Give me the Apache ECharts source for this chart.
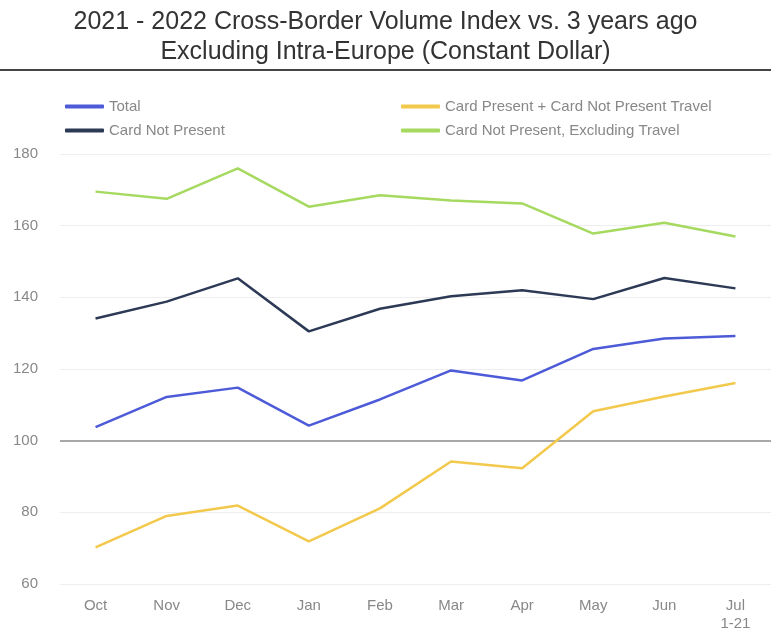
<!DOCTYPE html>
<html><head><meta charset="utf-8">
<script src="https://cdn.jsdelivr.net/npm/echarts@6/dist/echarts.min.js"></script>
<style>html,body{margin:0;padding:0;background:#fff}#c{width:771px;height:635px}</style>
</head><body><div id="c"></div>
<script>
const categories = ['Oct','Nov','Dec','Jan','Feb','Mar','Apr','May','Jun','Jul\n1-21'];
const total = [103.8,112.2,114.8,104.2,111.5,119.6,116.8,125.6,128.5,129.2];
const cardNotPresent = [134.1,138.8,145.3,130.5,136.8,140.3,142.0,139.5,145.4,142.5];
const cpTravel = [70.2,79.0,81.9,71.9,81.1,94.2,92.3,108.2,112.3,116.1];
const cnpExTravel = [169.5,167.5,176.0,165.3,168.5,167.0,166.2,157.8,160.8,157.0];
const yTicks = {min:60, max:180, interval:20};
const titleLines = ['2021 - 2022 Cross-Border Volume Index vs. 3 years ago','Excluding Intra-Europe (Constant Dollar)'];

const chart = echarts.init(document.getElementById('c'));
const font = 'Liberation Sans, Arial, sans-serif';
function s(name, data, color, extra){
  return Object.assign({name, type:'line', data, symbol:'none', smooth:false,
    lineStyle:{color, width:2.5}, itemStyle:{color}, z:3}, extra||{});
}
const legendText = {fontFamily:font, fontSize:15, color:'#888'};
chart.setOption({
  animation:false,
  title:[
    {text:titleLines[0], left:'center', top:5, textStyle:{fontFamily:font, fontSize:25, fontWeight:'normal', color:'#333'}},
    {text:titleLines[1], left:'center', top:35, textStyle:{fontFamily:font, fontSize:25, fontWeight:'normal', color:'#333'}}
  ],
  graphic:[{type:'line', shape:{x1:0,y1:70,x2:771,y2:70}, style:{stroke:'#444', lineWidth:2}}],
  legend:[
    {data:['Total','Card Not Present'], orient:'vertical', left:60, top:94, itemGap:9, itemWidth:39, itemHeight:4, icon:'roundRect',
     textStyle:legendText},
    {data:['Card Present + Card Not Present Travel','Card Not Present, Excluding Travel'], orient:'vertical', left:396, top:94, itemGap:9, itemWidth:39, itemHeight:4, icon:'roundRect',
     textStyle:legendText}
  ],
  grid:{left:60, right:-2, top:154, bottom:51},
  xAxis:{type:'category', data:categories, boundaryGap:true,
    axisLine:{show:false}, axisTick:{show:false},
    axisLabel:{fontFamily:font, fontSize:15, color:'#888', margin:13, lineHeight:18}},
  yAxis:{type:'value', min:yTicks.min, max:yTicks.max, interval:yTicks.interval,
    axisLine:{show:false}, axisTick:{show:false},
    axisLabel:{fontFamily:font, fontSize:15, color:'#888', margin:22},
    splitLine:{lineStyle:{color:'#eeeeee', width:1}}},
  series:[
    s('Total', total, '#4d5bd8', {markLine:{silent:true, symbol:'none', label:{show:false},
      lineStyle:{color:'#a8a8a8', width:2, type:'solid'}, data:[{yAxis:100}], z:1}}),
    s('Card Not Present', cardNotPresent, '#2c3a55'),
    s('Card Present + Card Not Present Travel', cpTravel, '#f2c94c'),
    s('Card Not Present, Excluding Travel', cnpExTravel, '#a6d95f')
  ]
});
</script></body></html>
